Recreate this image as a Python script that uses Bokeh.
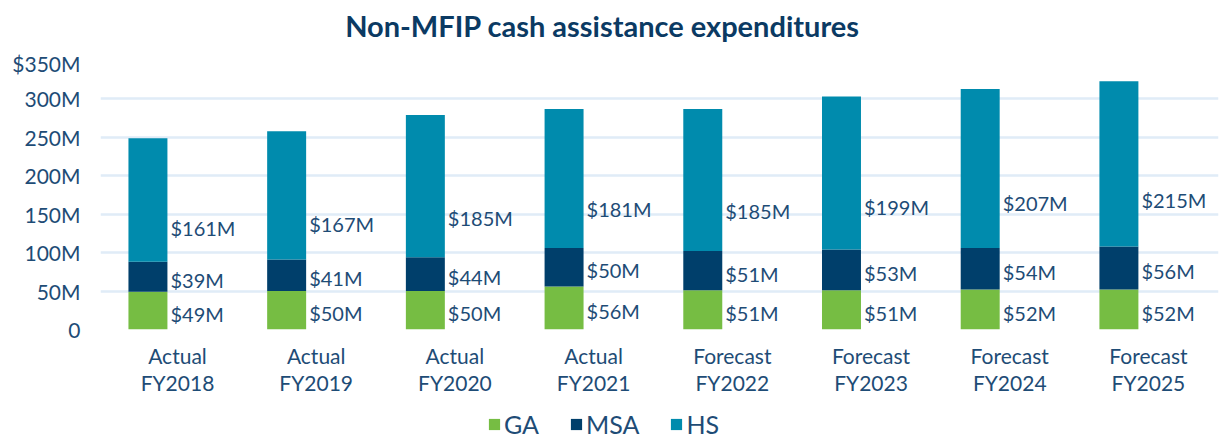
from bokeh.plotting import figure
from bokeh.layouts import column
from bokeh.models import ColumnDataSource, FixedTicker, Legend, LegendItem, Label
from bokeh.core.properties import value
from bokeh.embed import file_html
from bokeh.resources import INLINE

periods = ["Actual\nFY2018", "Actual\nFY2019", "Actual\nFY2020", "Actual\nFY2021",
           "Forecast\nFY2022", "Forecast\nFY2023", "Forecast\nFY2024", "Forecast\nFY2025"]
ga = [49, 50, 50, 56, 51, 51, 52, 52]
msa = [39, 41, 44, 50, 51, 53, 54, 56]
hs = [161, 167, 185, 181, 185, 199, 207, 215]
series = ["GA", "MSA", "HS"]
colors = ["#76BD43", "#003F6B", "#008BAD"]
y_ticks = [0, 50, 100, 150, 200, 250, 300, 350]
y_tick_labels = ["0", "50M", "100M", "150M", "200M", "250M", "300M", "$350M"]
title_text = "Non-MFIP cash assistance expenditures"

FONT = "Lato"
TXT = "#1E4C76"
W = 1223
LEFT = 100
RIGHT_BORDER = 5


def strip(height):
    # frames of a column are aligned with the main chart's frame (x from LEFT to W-RIGHT_BORDER)
    f = figure(width=W, height=height, x_range=(LEFT, W - RIGHT_BORDER), y_range=(0, height),
               output_backend="svg", toolbar_location=None,
               x_axis_location=None, y_axis_location=None,
               min_border_left=LEFT, min_border_right=RIGHT_BORDER,
               min_border_top=0, min_border_bottom=0)
    f.outline_line_color = None
    f.xgrid.grid_line_color = None
    f.ygrid.grid_line_color = None
    return f


# title strip
pt = strip(50)
pt.add_layout(Label(x=602, y=25, text=title_text, text_align="center",
                    text_baseline="middle", text_font=FONT, text_font_style="bold",
                    text_font_size="29px", text_color="#0B3A63"))

# main chart
idx = list(range(len(periods)))
bar_off = -0.213
bar_w = 0.281
bx = [i + bar_off for i in idx]

src = ColumnDataSource(dict(x=bx, GA=ga, MSA=msa, HS=hs))

p = figure(width=W, height=355, x_range=(-0.555, 7.505), y_range=(0, 350),
           output_backend="svg", toolbar_location=None,
           min_border_left=LEFT, min_border_right=RIGHT_BORDER, min_border_top=10, min_border_bottom=76)
p.outline_line_color = None
p.background_fill_color = "white"

p.vbar_stack(series, x="x", width=bar_w, color=colors, source=src, line_color=None)

lx, ly, lt = [], [], []
for i in idx:
    x = bx[i] + bar_w / 2
    lx += [x, x, x]
    ly += [ga[i] / 2, ga[i] + msa[i] / 2, ga[i] + msa[i] + hs[i] * 0.3]
    lt += [f"${ga[i]}M", f"${msa[i]}M", f"${hs[i]}M"]
lsrc = ColumnDataSource(dict(x=lx, y=ly, t=lt))
p.text(x="x", y="y", text="t", source=lsrc, x_offset=3, y_offset=3,
       text_align="left", text_baseline="middle", text_font=value(FONT),
       text_font_size="20px", text_color=TXT)

p.xaxis.ticker = FixedTicker(ticks=idx)
p.xaxis.major_label_overrides = {i: periods[i] for i in idx}
p.xaxis.axis_line_color = None
p.xaxis.major_tick_line_color = None
p.xaxis.minor_tick_line_color = None
p.xaxis.major_label_text_font = FONT
p.xaxis.major_label_text_font_size = "21px"
p.xaxis.major_label_text_color = TXT
p.xaxis.major_label_text_line_height = 1.1
p.xaxis.major_label_standoff = 7
p.xgrid.grid_line_color = None

p.yaxis.ticker = FixedTicker(ticks=y_ticks)
p.yaxis.major_label_overrides = {y_ticks[i]: y_tick_labels[i] for i in range(len(y_ticks))}
p.yaxis.axis_line_color = None
p.yaxis.major_tick_line_color = None
p.yaxis.minor_tick_line_color = None
p.yaxis.major_label_text_font = FONT
p.yaxis.major_label_text_font_size = "21px"
p.yaxis.major_label_text_color = TXT
p.yaxis.major_label_standoff = 14
p.ygrid.grid_line_color = "#E0ECF7"
p.ygrid.grid_line_width = 2.5

# legend strip (zero-height swatch renderers, used only for the legend glyphs)
pl = strip(34)
lr = [pl.vbar(x=[600], top=[0], bottom=[0], width=1, color=c, line_color=None) for c in colors]
legend = Legend(items=[LegendItem(label=s, renderers=[r]) for s, r in zip(series, lr)],
                orientation="horizontal", location=(487 - LEFT, 0),
                glyph_width=14, glyph_height=14, label_text_font=FONT,
                label_text_font_size="25px", label_text_color=TXT,
                spacing=30, padding=0, margin=0, border_line_color=None,
                background_fill_alpha=0, label_standoff=3)
pl.add_layout(legend)

open("out.html", "w").write(file_html(column(pt, p, pl, spacing=0), INLINE))
